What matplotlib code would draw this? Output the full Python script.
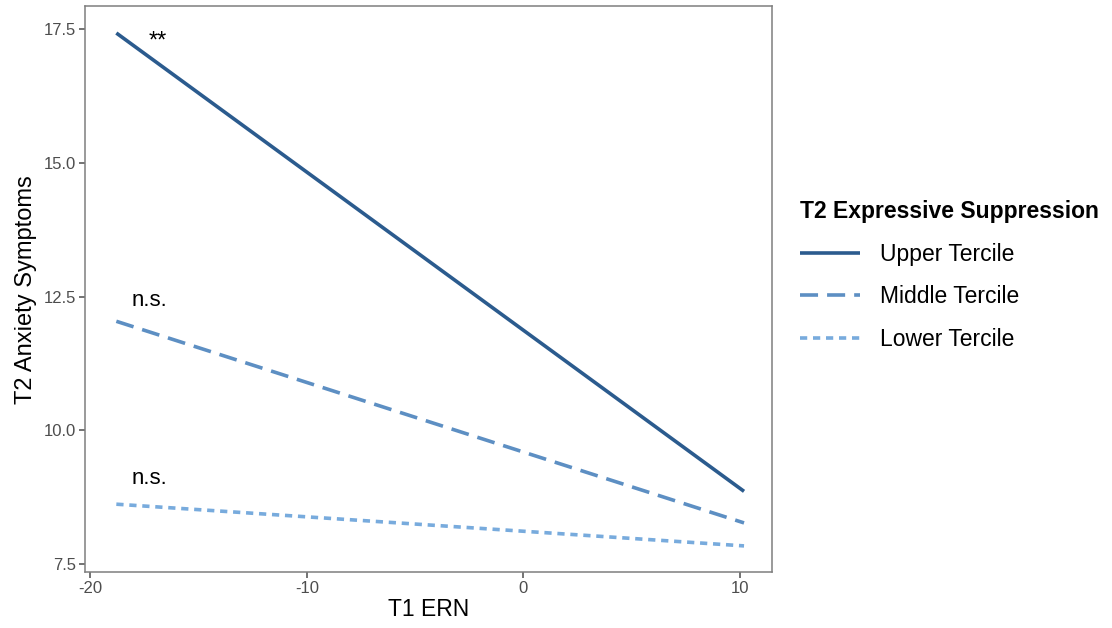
import matplotlib.pyplot as plt

plt.rcParams['font.family'] = ['Liberation Sans', 'DejaVu Sans']
plt.rcParams['axes.unicode_minus'] = False

# simple slopes: T1 ERN at the two ends of the observed range
ern = [-18.8, 10.2]
upper = [17.43, 8.86]
middle = [12.04, 8.27]
lower = [8.62, 7.84]

groups = ['Upper Tercile', 'Middle Tercile', 'Lower Tercile']
colors = ['#2b5b8e', '#5d8fc3', '#78abdd']
dashes = [None, (5, 2.5), (2, 1.6)]

fig = plt.figure(figsize=(11.12, 6.28), dpi=100)
ax = fig.add_axes([0.0764, 0.089, 0.618, 0.901])

for vals, name, col, ds in zip([upper, middle, lower], groups, colors, dashes):
    line, = ax.plot(ern, vals, color=col, lw=2.6, label=name, solid_capstyle='butt')
    if ds is not None:
        line.set_dashes(ds)
        line.set_dash_capstyle('butt')

# significance labels
ax.text(-16.9, 17.28, '**', fontsize=17, ha='center', va='center')
ax.text(-17.25, 12.42, 'n.s.', fontsize=16, ha='center', va='center')
ax.text(-17.25, 9.1, 'n.s.', fontsize=16, ha='center', va='center')

ax.set_xlim(-20.25, 11.5)
ax.set_ylim(7.35, 17.93)
ax.set_xticks([-20, -10, 0, 10])
ax.set_yticks([7.5, 10.0, 12.5, 15.0, 17.5])
ax.set_yticklabels(['7.5', '10.0', '12.5', '15.0', '17.5'])
ax.tick_params(colors='#4d4d4d', labelsize=12, length=4, width=1.1,
               labelcolor='#4d4d4d', pad=2.5)
for sp in ax.spines.values():
    sp.set_color('#7f7f7f')
    sp.set_linewidth(1.1)

ax.set_xlabel('T1 ERN', fontsize=16.5, labelpad=1)
ax.set_ylabel('T2 Anxiety Symptoms', fontsize=17, labelpad=5)

leg = fig.legend(loc='upper left', bbox_to_anchor=(0.701, 0.714), frameon=False,
                 title='T2 Expressive Suppression', fontsize=16.5,
                 title_fontproperties={'weight': 'bold', 'size': 16.5},
                 alignment='left', handlelength=2.6, handletextpad=0.9,
                 labelspacing=0.85)
for h in leg.get_lines():
    h.set_linewidth(2.6)

fig.savefig('out.png', dpi=100)
